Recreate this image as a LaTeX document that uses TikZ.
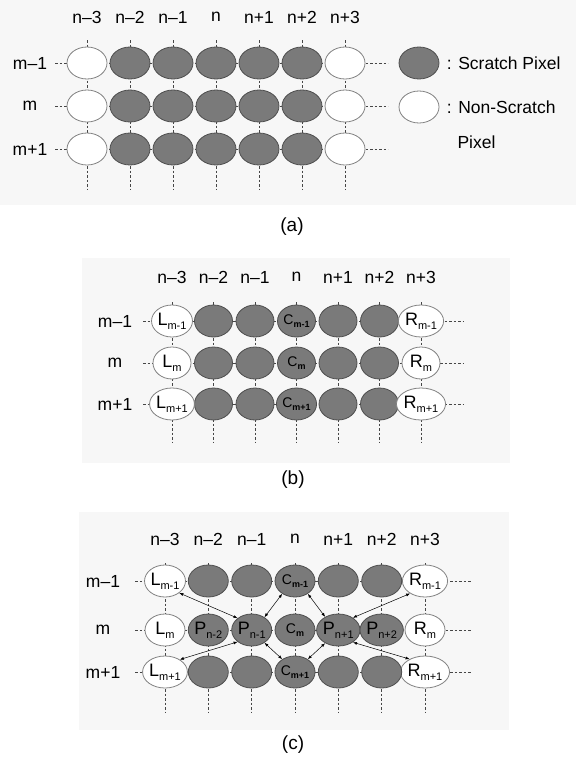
\documentclass[tikz,border=0pt]{standalone}
\usepackage{fontspec}
\setmainfont{Liberation Sans}
\usetikzlibrary{arrows.meta, shapes.geometric, positioning}
\definecolor{pxFill}{RGB}{122,122,122}
\definecolor{pxEdge}{RGB}{78,78,78}
\definecolor{pxOpen}{RGB}{130,130,130}
\definecolor{pxLine}{RGB}{70,70,70}
\definecolor{panelBg}{RGB}{247,247,247}
% letra grande con subindice
\newcommand{\pxlab}[2]{{\fontsize{18}{18}\selectfont #1}\raisebox{-0.45ex}{\fontsize{11}{11}\selectfont #2}}
\newcommand{\pxcen}[1]{{\fontsize{14}{14}\selectfont C}\raisebox{-0.4ex}{\fontsize{9}{9}\selectfont\bfseries #1}}

\begin{document}
\begin{tikzpicture}[
      x=1pt, y=-1pt,
      font=\fontsize{17.5}{20}\selectfont,
      scratch/.style    = {ellipse, draw=pxEdge, fill=pxFill, line width=0.8pt,
                           minimum width=40pt, minimum height=32pt, inner sep=0pt},
      nonscratch/.style = {scratch, draw=pxOpen, fill=white},
      narrow/.style     = {minimum width=38pt},
      grid/.style       = {draw=pxLine, line width=0.7pt, dash pattern=on 2.5pt off 2pt},
      dbl/.style        = {{Latex[length=4pt,width=3pt]}-{Latex[length=4pt,width=3pt]}, line width=0.5pt},
      caption/.style    = {font=\fontsize{19}{22}\selectfont},
    ]
    \useasboundingbox (0,0) rectangle (576,763);
    %% ── Fondos ─────────────────────────────────────────────────
    \fill[panelBg] (0,0) rectangle (576,205);
    \fill[panelBg] (82,258) rectangle (510,463);
    \fill[panelBg] (79,512) rectangle (509,730);

    %% ── Panel (a) ──────────────────────────────────────────────
    \foreach \r/\y/\t in {1/63/m--1, 2/106/m, 3/149/m+1} {
      \node (a-row\r) at (30,\y) {\t};
      \draw[grid] (55,\y) -- (388,\y);
    }
    \foreach \c/\x/\t in {1/87/n--3, 2/130/n--2, 3/173/n--1, 4/216/n,
                          5/259/n+1, 6/302/n+2, 7/345/n+3} {
      \node (a-col\c) at (\x,17) {\t};
      \draw[grid] (\x,40) -- (\x,190);
    }
    \foreach \r/\y in {1/63, 2/106, 3/149} {
      \foreach \c/\x in {1/87, 7/345}
        \node (a-\r-\c) [nonscratch] at (\x,\y) {};
      \foreach \c/\x in {2/130, 3/173, 4/216, 5/259, 6/302}
        \node (a-\r-\c) [scratch] at (\x,\y) {};
    }
    %% leyenda
    \node (legS) [scratch] at (419,63) {};
    \node (legN) [nonscratch] at (419,107) {};
    \node (legStxt) [right=4pt of legS] {: Scratch Pixel};
    \node (legNtxt) [right=4pt of legN] {: Non-Scratch};
    \node (legNtxt2) [anchor=west] at (454,142) {Pixel};
    \node (capA) [caption] at (292,227) {(a)};

    %% ── Panel (b) ──────────────────────────────────────────────
    \foreach \r/\y/\t in {1/321/m--1, 2/363/m, 3/404/m+1} {
      \node (b-row\r) at (115,\y) {\t};
      \draw[grid] (143,\y) -- (463,\y);
    }
    \foreach \c/\x/\t in {1/172/n--3, 2/213.5/n--2, 3/255/n--1, 4/296.5/n,
                          5/338/n+1, 6/379.5/n+2, 7/421/n+3} {
      \node (b-col\c) at (\x,277) {\t};
      \draw[grid] (\x,302) -- (\x,443);
    }
    \foreach \r/\y/\s in {1/321/m-1, 2/363/m, 3/404/m+1} {
      \foreach \c/\x in {2/213.5, 3/255, 5/338, 6/379.5}
        \node (b-\r-\c) [scratch, narrow] at (\x,\y) {};
      \node (b-\r-1) [nonscratch, narrow] at (172,\y) {\pxlab{L}{\s}};
      \node (b-\r-4) [scratch, narrow] at (296.5,\y) {\pxcen{\s}};
      \node (b-\r-7) [nonscratch, narrow] at (421,\y) {\pxlab{R}{\s}};
    }
    \node (capB) [caption] at (293,480) {(b)};

    %% ── Panel (c) ──────────────────────────────────────────────
    \foreach \r/\y/\t in {1/581/m--1, 2/630/m, 3/672/m+1} {
      \node (c-row\r) at (103,\y) {\t};
      \draw[grid] (135,\y) -- (472,\y);
    }
    \foreach \c/\x/\t in {1/165/n--3, 2/208.3/n--2, 3/251.7/n--1, 4/295/n,
                          5/338.3/n+1, 6/381.7/n+2, 7/425/n+3} {
      \node (c-col\c) at (\x,539) {\t};
      \draw[grid] (\x,563) -- (\x,713);
    }
    \foreach \r/\y/\s in {1/581/m-1, 2/630/m, 3/672/m+1} {
      \node (c-\r-1) [nonscratch] at (165,\y) {\pxlab{L}{\s}};
      \node (c-\r-4) [scratch] at (295,\y) {\pxcen{\s}};
      \node (c-\r-7) [nonscratch] at (425,\y) {\pxlab{R}{\s}};
    }
    \foreach \r/\y in {1/581, 3/672}
      \foreach \c/\x in {2/208.3, 3/251.7, 5/338.3, 6/381.7}
        \node (c-\r-\c) [scratch] at (\x,\y) {};
    \foreach \c/\x/\s in {2/208.3/n-2, 3/251.7/n-1, 5/338.3/n+1, 6/381.7/n+2}
      \node (c-2-\c) [scratch] at (\x,630) {\pxlab{P}{\s}};
    %% flechas hacia P(n-1) y P(n+1)
    \draw[dbl] (c-1-1.-40)  -- (c-2-3.140);
    \draw[dbl] (c-1-4.-135) -- (c-2-3.45);
    \draw[dbl] (c-1-4.-45)  -- (c-2-5.135);
    \draw[dbl] (c-1-7.-140) -- (c-2-5.40);
    \draw[dbl] (c-3-1.40)   -- (c-2-3.-140);
    \draw[dbl] (c-3-4.135)  -- (c-2-3.-45);
    \draw[dbl] (c-3-4.45)   -- (c-2-5.-135);
    \draw[dbl] (c-3-7.140)  -- (c-2-5.-40);
    \node (capC) [caption] at (293,745) {(c)};
  \end{tikzpicture}
\end{document}
